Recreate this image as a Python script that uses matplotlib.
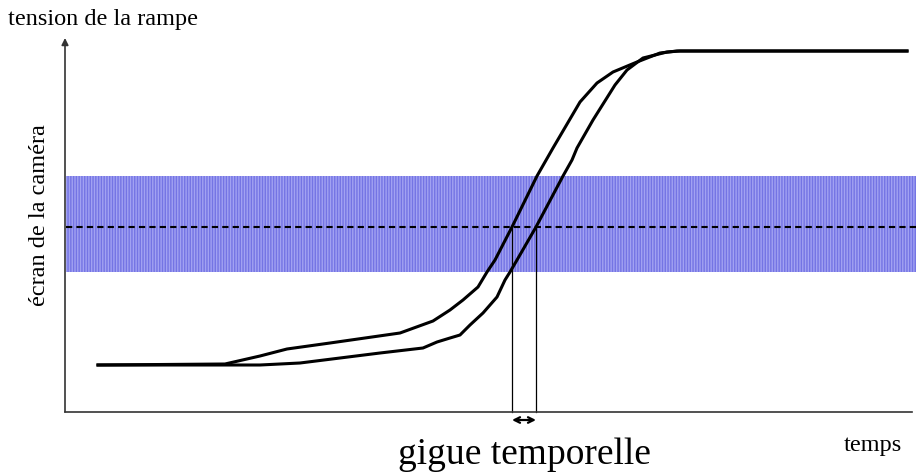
import matplotlib
matplotlib.use("Agg")
import matplotlib.pyplot as plt

# time / ramp-voltage samples (arbitrary units)
t_early = [33, 160, 195, 222, 265, 335, 368, 385, 398, 413, 422, 430, 447, 472, 488,
           515, 532, 548, 572, 595, 612, 842]
v_early = [47, 48, 56, 63, 69, 79, 91, 102, 112, 125, 140, 152, 185, 236, 264,
           310, 329, 340, 350, 359, 361, 361]

t_late = [33, 195, 235, 315, 358, 372, 385, 395, 405, 418, 432, 440, 445, 452, 471,
          498, 507, 512, 528, 550, 562, 578, 602, 615, 842]
v_late = [47, 47, 49, 59, 64, 70, 74, 77, 87, 99, 115, 132, 140, 152, 185,
          236, 252, 264, 292, 327, 342, 354, 360, 361, 361]

screen_lo, screen_hi = 140, 236   # camera screen band
threshold = 185                   # dashed trigger level
t_cross = [447, 471]              # crossings of the threshold
t_max, v_max = 851, 374

plt.rcParams["font.family"] = ["Liberation Serif", "DejaVu Serif"]

fig = plt.figure(figsize=(9.16, 4.76), dpi=100)
ax = fig.add_axes([0, 0, 1, 1])
ax.set_xlim(-65, 851)
ax.set_ylim(-64, 412)
ax.axis("off")

# camera screen band
ax.fill_between([1, t_max], screen_lo, screen_hi, facecolor="#a2a2f2",
                edgecolor="#7474e4", hatch="||||||", lw=0, zorder=1)
ax.plot([1, t_max], [threshold, threshold], color="black", lw=1.5,
        ls=(0, (3, 2)), zorder=2)

# the two ramps
ax.plot(t_early, v_early, color="black", lw=2.2, zorder=3, solid_joinstyle="round")
ax.plot(t_late, v_late, color="black", lw=2.2, zorder=3, solid_joinstyle="round")

# crossings down to the time axis
for tc in t_cross:
    ax.plot([tc, tc], [0, threshold], color="black", lw=0.9, zorder=2)
ax.annotate("", xy=(t_cross[0], -8), xytext=(t_cross[1], -8),
            arrowprops=dict(arrowstyle="<->", lw=1.6, color="black",
                            mutation_scale=10, shrinkA=0, shrinkB=0))

# axes
ax.plot([0, 847], [0, 0], color="#333333", lw=1.2, zorder=4)
ax.annotate("", xy=(0, v_max), xytext=(0, 0),
            arrowprops=dict(arrowstyle="-|>", lw=1.2, color="#333333",
                            mutation_scale=10, shrinkA=0, shrinkB=0))

ax.text(-57, 392, "tension de la rampe", fontsize=17.5, ha="left", va="center")
ax.text(-25, 197, "écran de la caméra", fontsize=17.5, rotation=90,
        ha="center", va="center")
ax.text(459, -43, "gigue temporelle", fontsize=27, ha="center", va="center")
ax.text(808, -33, "temps", fontsize=17.5, ha="center", va="center")

fig.savefig("out.png", dpi=100)
